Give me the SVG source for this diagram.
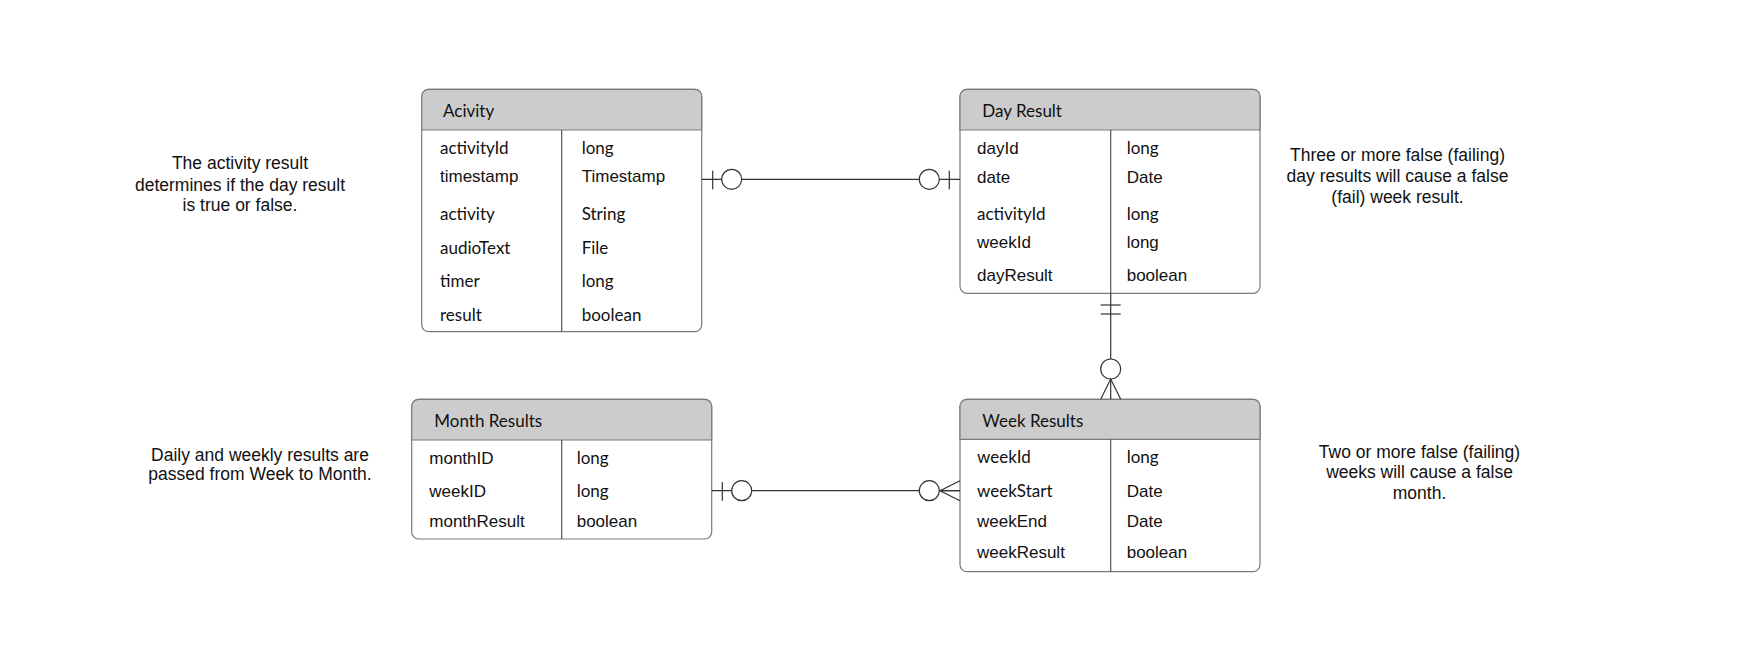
<svg xmlns="http://www.w3.org/2000/svg" width="1760" height="663" viewBox="0 0 1760 663">
<style>
.box{fill:#fff;stroke:#7a7a7a;stroke-width:1.2}
.hdr{fill:#cccccc;stroke:#7a7a7a;stroke-width:1.2}
.div{stroke:#555;stroke-width:1.2;fill:none}
.pt{font-family:Lato,"Open Sans",sans-serif;font-size:17px;fill:#111}
.ar{font-family:"Liberation Sans",Arial,sans-serif;font-size:17px;fill:#111}
.note{font-family:"Liberation Sans",Arial,sans-serif;font-size:17.5px;fill:#111;text-anchor:middle}
.ln{stroke:#333;stroke-width:1.2;fill:none}
.ring{stroke:#333;stroke-width:1.2;fill:#fff}
</style>
<rect width="1760" height="663" fill="#fff"/>

<g id="activity">
<rect class="box" x="421.7" y="89.3" width="280" height="242.4" rx="7"/>
<path class="hdr" d="M421.7,130 V96.3 a7,7 0 0 1 7,-7 H694.7 a7,7 0 0 1 7,7 V130 Z"/>
<line class="div" x1="561.7" y1="130" x2="561.7" y2="331.7"/>
<text class="pt" x="443" y="117">Acivity</text>
<text class="pt" x="440" y="154">activityId</text><text class="pt" x="581.7" y="154">long</text>
<text class="ar" x="440" y="181.7">timestamp</text><text class="ar" x="581.7" y="181.7">Timestamp</text>
<text class="pt" x="440" y="220">activity</text><text class="pt" x="581.7" y="220">String</text>
<text class="pt" x="440" y="254">audioText</text><text class="pt" x="581.7" y="254">File</text>
<text class="pt" x="440" y="286.7">timer</text><text class="pt" x="581.7" y="286.7">long</text>
<text class="pt" x="440" y="320.7">result</text><text class="pt" x="581.7" y="320.7">boolean</text>
</g>

<g id="dayresult">
<rect class="box" x="960" y="89.3" width="300" height="204" rx="7"/>
<path class="hdr" d="M960,130 V96.3 a7,7 0 0 1 7,-7 H1253 a7,7 0 0 1 7,7 V130 Z"/>
<line class="div" x1="1110.7" y1="130" x2="1110.7" y2="293.3"/>
<text class="pt" x="982.3" y="117.3">Day Result</text>
<text class="ar" x="977" y="154">dayId</text><text class="pt" x="1126.7" y="154">long</text>
<text class="ar" x="977" y="182.7">date</text><text class="ar" x="1126.7" y="182.7">Date</text>
<text class="pt" x="977" y="220">activityId</text><text class="pt" x="1126.7" y="220">long</text>
<text class="ar" x="977" y="248">weekId</text><text class="ar" x="1126.7" y="248">long</text>
<text class="ar" x="977" y="281">dayResult</text><text class="ar" x="1126.7" y="281">boolean</text>
</g>

<g id="monthresults">
<rect class="box" x="411.7" y="399.3" width="300" height="139.7" rx="7"/>
<path class="hdr" d="M411.7,440 V406.3 a7,7 0 0 1 7,-7 H704.7 a7,7 0 0 1 7,7 V440 Z"/>
<line class="div" x1="561.7" y1="440" x2="561.7" y2="539"/>
<text class="pt" x="434.3" y="426.7">Month Results</text>
<text class="ar" x="429.3" y="464">monthID</text><text class="pt" x="576.7" y="464">long</text>
<text class="ar" x="429.3" y="497.3">weekID</text><text class="pt" x="576.7" y="497.3">long</text>
<text class="ar" x="429.3" y="526.7">monthResult</text><text class="ar" x="576.7" y="526.7">boolean</text>
</g>

<g id="weekresults">
<rect class="box" x="960" y="399.3" width="300" height="172.4" rx="7"/>
<path class="hdr" d="M960,439.3 V406.3 a7,7 0 0 1 7,-7 H1253 a7,7 0 0 1 7,7 V439.3 Z"/>
<line class="div" x1="1110.7" y1="439.3" x2="1110.7" y2="571.7"/>
<text class="pt" x="982.3" y="426.7">Week Results</text>
<text class="pt" x="977" y="463.3">weekId</text><text class="pt" x="1126.7" y="463.3">long</text>
<text class="pt" x="977" y="497.3">weekStart</text><text class="ar" x="1126.7" y="497.3">Date</text>
<text class="ar" x="977" y="526.7">weekEnd</text><text class="ar" x="1126.7" y="526.7">Date</text>
<text class="ar" x="977" y="558.3">weekResult</text><text class="ar" x="1126.7" y="558.3">boolean</text>
</g>

<g id="connectors">
<!-- Activity - Day Result -->
<line class="ln" x1="701.7" y1="179.3" x2="960" y2="179.3"/>
<line class="ln" x1="712.7" y1="170.7" x2="712.7" y2="189.3"/>
<circle class="ring" cx="731.7" cy="179.3" r="10"/>
<circle class="ring" cx="929.3" cy="179.3" r="10"/>
<line class="ln" x1="949.3" y1="170.7" x2="949.3" y2="189.3"/>
<!-- Month - Week -->
<line class="ln" x1="711.7" y1="490.7" x2="960" y2="490.7"/>
<line class="ln" x1="722.3" y1="482" x2="722.3" y2="500.7"/>
<circle class="ring" cx="741.7" cy="490.7" r="10"/>
<circle class="ring" cx="929.3" cy="490.7" r="10"/>
<path class="ln" d="M960,480.7 L940,490.7 L960,500.7 M940,490.7 H960"/>
<!-- Day - Week -->
<line class="ln" x1="1110.7" y1="293.3" x2="1110.7" y2="399.3"/>
<line class="ln" x1="1100.7" y1="305" x2="1120.7" y2="305"/>
<line class="ln" x1="1100.7" y1="314" x2="1120.7" y2="314"/>
<circle class="ring" cx="1110.7" cy="369" r="10"/>
<path class="ln" d="M1100.7,399.3 L1110.7,379 L1120.7,399.3"/>
</g>

<g id="notes">
<text class="note" x="240" y="169.3">The activity result</text>
<text class="note" x="240" y="190.7">determines if the day result</text>
<text class="note" x="240" y="211">is true or false.</text>
<text class="note" x="1397.5" y="160.7">Three or more false (failing)</text>
<text class="note" x="1397.5" y="181.7">day results will cause a false</text>
<text class="note" x="1397.5" y="203">(fail) week result.</text>
<text class="note" x="260" y="460.7">Daily and weekly results are</text>
<text class="note" x="260" y="480">passed from Week to Month.</text>
<text class="note" x="1419.5" y="458.3">Two or more false (failing)</text>
<text class="note" x="1419.5" y="478.3">weeks will cause a false</text>
<text class="note" x="1419.5" y="499.3">month.</text>
</g>
</svg>
